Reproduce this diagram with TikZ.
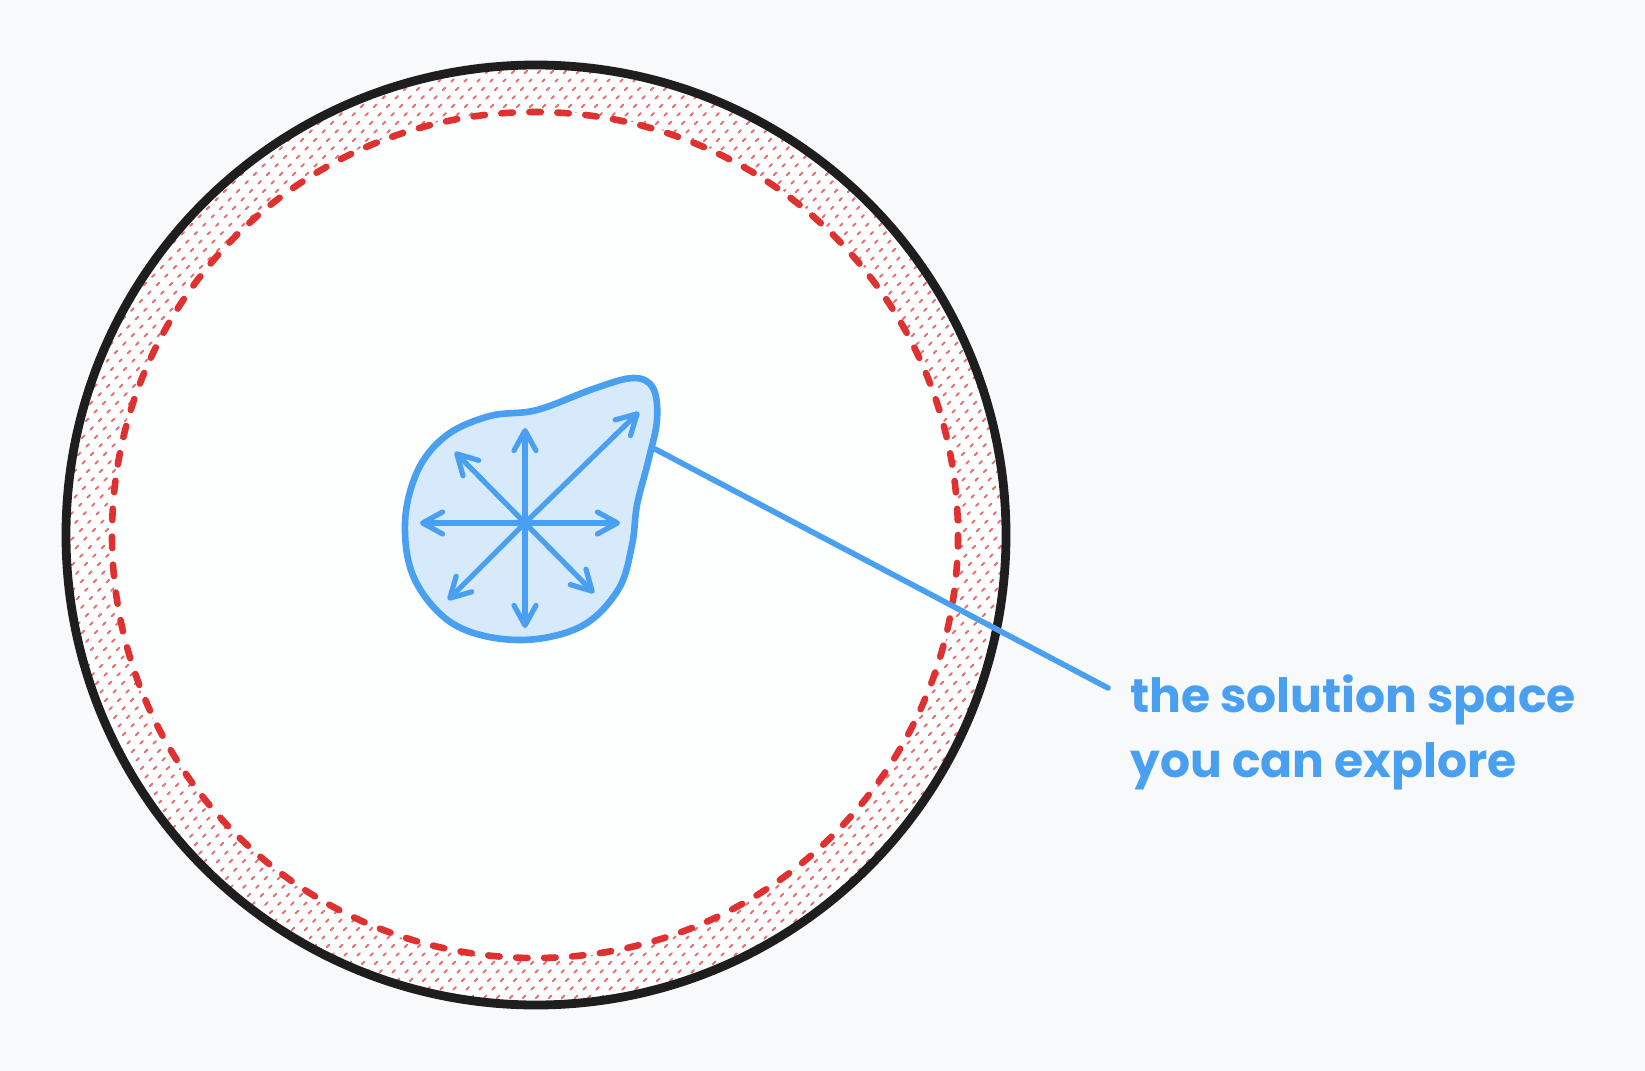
\documentclass[tikz,border=0pt]{standalone}
\usepackage{fontspec}
\newfontfamily\lblfont{Poppins}
\usetikzlibrary{arrows.meta}
\definecolor{bgc}{RGB}{248,249,251}
\definecolor{innerc}{RGB}{253,254,254}
\definecolor{rimblack}{RGB}{30,30,30}
\definecolor{dashred}{RGB}{224,49,49}
\definecolor{hatchred}{RGB}{236,110,110}
\definecolor{sblue}{RGB}{74,160,240}
\definecolor{sfill}{RGB}{215,234,252}
\begin{document}
\begin{tikzpicture}[x=0.5pt,y=-0.5pt,
  rim/.style={draw=rimblack,line width=4.4pt},
  limit/.style={draw=dashred,line width=3.3pt,dash pattern=on 5.7pt off 8.3pt,line cap=round},
  hatchline/.style={draw=hatchred,line width=1pt,dash pattern=on 1.8pt off 4.2pt,line cap=round},
  blob/.style={draw=sblue,fill=sfill,line width=3.3pt,line join=round},
  ray/.style={draw=sblue,line width=2.6pt,line cap=round,-{Straight Barb[length=10pt,width=11pt,line cap=round,line join=round]}},
  callout/.style={draw=sblue,line width=2.8pt,line cap=round},
  lbl/.style={text=sblue,inner sep=0pt,font=\lblfont\bfseries\fontsize{23.6}{28}\selectfont}]
\fill[bgc] (0,0) rectangle (1645,1071);
\useasboundingbox (0,0) rectangle (1645,1071);
\coordinate (O) at (536,535);
\coordinate (R) at (535,535);
\fill[innerc] (O) circle[radius=470];
% hatched ring
\begin{scope}
  \clip (O) circle[radius=468];
  \foreach \c in {130,143,...,2030} {
    \draw[hatchline] (\c-1100,1100) -- (\c,0);
  }
\end{scope}
\fill[innerc] (R) circle[radius=424];
\draw[rim] (O) circle[radius=470];
\draw[limit] (R) circle[radius=423];
% solution blob
\draw[blob] plot[smooth cycle, tension=0.6] coordinates {
  (405,523) (418,470) (447,435) (490,416) (537,410) (593,389) (633,378)
  (653,388) (657,420) (648,462) (637,505) (632,545) (618,590) (580,627)
  (518,640) (455,625) (415,580)};
% rays
\coordinate (C) at (525,523);
\coordinate (up) at (525,428);
\coordinate (dn) at (525,628);
\coordinate (lf) at (420,523);
\coordinate (rt) at (620,523);
\coordinate (ul) at (455,452);
\coordinate (ur) at (639,412);
\coordinate (dl) at (448,600);
\coordinate (dr) at (594,593);
\foreach \t in {up,dn,lf,rt,ul,ur,dl,dr} { \draw[ray] (C) -- (\t); }
% callout
\coordinate (blobpt) at (655,449);
\node[lbl,anchor=base west] (label1) at (1130,712) {the solution space};
\node[lbl,anchor=base west] (label2) at (1130,777) {you can explore};
\coordinate (lblend) at (1108,688);
\draw[callout] (blobpt) -- (lblend);
\end{tikzpicture}
\end{document}
